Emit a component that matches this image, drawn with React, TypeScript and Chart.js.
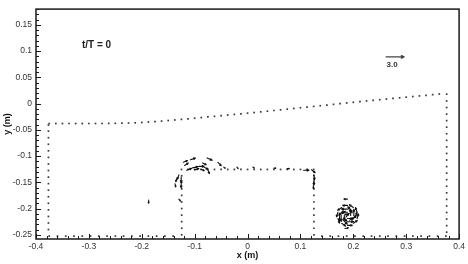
import { useEffect, useRef } from "react";
import { Chart, registerables } from "chart.js";

Chart.register(...registerables);

const FONT = "'Liberation Sans', Arial, sans-serif";

// Axis ticks
const xTicks = [-0.4, -0.3, -0.2, -0.1, 0, 0.1, 0.2, 0.3, 0.4];
const xTickLabels = ["-0.4", "-0.3", "-0.2", "-0.1", "0", "0.1", "0.2", "0.3", "0.4"];
const yTicks = [-0.25, -0.2, -0.15, -0.1, -0.05, 0, 0.05, 0.1, 0.15];
const yTickLabels = ["-0.25", "-0.2", "-0.15", "-0.1", "-0.05", "0", "0.05", "0.1", "0.15"];

// Free surface grid points
const surfX = [
  -0.375, -0.3625, -0.35, -0.3375, -0.325, -0.3125, -0.3, -0.2875, -0.275, -0.2625,
  -0.25, -0.2375, -0.225, -0.2125, -0.2, -0.1875, -0.175, -0.1625, -0.15, -0.1375,
  -0.125, -0.1125, -0.1, -0.0875, -0.075, -0.0625, -0.05, -0.0375, -0.025, -0.0125,
  0, 0.0125, 0.025, 0.0375, 0.05, 0.0625, 0.075, 0.0875, 0.1, 0.1125,
  0.125, 0.1375, 0.15, 0.1625, 0.175, 0.1875, 0.2, 0.2125, 0.225, 0.2375,
  0.25, 0.2625, 0.275, 0.2875, 0.3, 0.3125, 0.325, 0.3375, 0.35, 0.3625,
];
const surfY = [
  -0.038, -0.038, -0.038, -0.038, -0.038, -0.038, -0.038, -0.038, -0.038, -0.0378,
  -0.0376, -0.0374, -0.0371, -0.0366, -0.036, -0.0352, -0.0343, -0.0333, -0.0323, -0.0312,
  -0.0301, -0.029, -0.0279, -0.0267, -0.0255, -0.0243, -0.0231, -0.0219, -0.0207, -0.0195,
  -0.0183, -0.0171, -0.0158, -0.0145, -0.0132, -0.0119, -0.0106, -0.0093, -0.008, -0.0067,
  -0.0054, -0.0041, -0.0028, -0.0015, -0.0002, 0.0011, 0.0024, 0.0037, 0.005, 0.0062,
  0.0074, 0.0086, 0.0098, 0.011, 0.0122, 0.0134, 0.0146, 0.0158, 0.017, 0.0182,
];

// Tank walls
const leftWallX = -0.3765;
const leftWallY = [
  -0.041, -0.0525, -0.065, -0.0775, -0.09, -0.1025, -0.115, -0.1275, -0.14, -0.1525,
  -0.165, -0.1775, -0.19, -0.2025, -0.215, -0.2275, -0.24,
];
const rightWallX = 0.3765;
const rightWallY = [
  0.018, 0.005, -0.0075, -0.02, -0.0325, -0.045, -0.0575, -0.07, -0.0825, -0.095,
  -0.1075, -0.12, -0.1325, -0.145, -0.1575, -0.17, -0.1825, -0.195, -0.2075, -0.22,
  -0.2325, -0.245,
];
const bottomY = -0.2525;
const bottomLeftX = [
  -0.375, -0.3594, -0.3438, -0.3281, -0.3125, -0.2969, -0.2813, -0.2656, -0.25,
  -0.2344, -0.2188, -0.2031, -0.1875, -0.1719, -0.1563, -0.1406,
];
const bottomRightX = [
  0.1406, 0.1563, 0.1719, 0.1875, 0.2031, 0.2188, 0.2344, 0.25, 0.2656,
  0.2813, 0.2969, 0.3125, 0.3281, 0.3438, 0.3594, 0.375,
];

// Submerged box
const boxTopY = -0.1255;
const boxTopX = [
  -0.125, -0.1125, -0.1, -0.0875, -0.075, -0.0625, -0.05, -0.0375, -0.025, -0.0125,
  0, 0.0125, 0.025, 0.0375, 0.05, 0.0625, 0.075, 0.0875, 0.1, 0.1125, 0.125,
];
const boxLeftX = -0.1245;
const boxRightX = 0.1255;
const boxWallY = [-0.1375, -0.15, -0.1625, -0.175, -0.1875, -0.2, -0.2125, -0.225, -0.2375, -0.25];

// Velocity vectors (position, u, v)
const vecX = [
  -0.1213, -0.108, -0.0764, -0.056, -0.115, -0.104, -0.0925, -0.083, -0.0755, -0.1,
  -0.0887, -0.085, -0.119, -0.045, -0.02, 0.01, 0.05, 0.075, 0.106,
  -0.1298, -0.1255, -0.1255, -0.137, -0.13, -0.1335,
  0.121, 0.1255, 0.1255, 0.1245,
  -0.187,
  0.195, 0.189, 0.183, 0.189,
  0.201, 0.1975, 0.189, 0.1805, 0.177, 0.1805, 0.189, 0.1975,
  0.207, 0.2, 0.189, 0.178, 0.171, 0.171, 0.178, 0.189, 0.2, 0.207,
  0.189, 0.184,
  0.198, 0.185, 0.181, 0.193, 0.2035, 0.174, 0.192, 0.186,
];
const vecY = [
  -0.1117, -0.107, -0.1035, -0.112, -0.127, -0.1225, -0.1196, -0.1206, -0.1253, -0.1263,
  -0.1253, -0.113, -0.118, -0.121, -0.121, -0.121, -0.123, -0.124, -0.127,
  -0.1358, -0.14, -0.15, -0.153, -0.182, -0.142,
  -0.126, -0.135, -0.145, -0.156,
  -0.184,
  -0.213, -0.207, -0.213, -0.219,
  -0.213, -0.2045, -0.201, -0.2045, -0.213, -0.2215, -0.225, -0.2215,
  -0.207, -0.198, -0.194, -0.198, -0.207, -0.219, -0.228, -0.232, -0.228, -0.219,
  -0.182, -0.238,
  -0.208, -0.205, -0.218, -0.222, -0.2165, -0.213, -0.2095, -0.2165,
];
const vecU = [
  0.67, 0.83, 0.83, 0.55, 0.8, 0.9, 0.9, 0.7, 0.3, 0.7,
  0.6, 0.6, 0.6, 0.25, 0.2, 0.25, 0.3, 0.35, 0.9,
  -0.25, 0, 0, 0.1, 0.3, -0.2,
  0.6, 0.1, 0, 0,
  0,
  0, -0.8, 0, 0.8,
  0, -0.7, -1.0, -0.7, 0, 0.7, 1.0, 0.7,
  -0.25, -0.65, -0.8, -0.65, -0.25, 0.25, 0.65, 0.8, 0.65, 0.25,
  -0.6, 0.6,
  -0.5, -0.6, 0.6, 0.7, 0.3, 0, -0.7, 0.5,
];
const vecV = [
  0.28, 0.27, -0.4, -0.55, 0.3, 0.2, 0, -0.4, -0.7, 0.2,
  -0.2, -0.3, 0.4, -0.2, -0.25, -0.15, 0, 0, 0,
  -0.7, -0.9, -0.9, -0.5, -0.3, -0.6,
  -0.5, -0.9, -0.9, -0.5,
  -0.5,
  0.8, 0, -0.8, 0,
  1.0, 0.7, 0, -0.7, -1.0, -0.7, 0, 0.7,
  0.76, 0.47, 0, -0.47, -0.76, -0.76, -0.47, 0, 0.47, 0.76,
  0, 0.1,
  0.5, -0.4, -0.5, 0.4, 0.8, -0.9, -0.2, 0.6,
];

// Reference vector and annotation
const refX = 0.262;
const refY = 0.089;
const refMag = 3.0;
const refLabel = "3.0";
const timeLabel = "t/T = 0";
const timeX = -0.313;
const timeY = 0.112;
const PX_PER_UNIT = 6;

function boundaryPoints() {
  const pts: { x: number; y: number }[] = [];
  surfX.forEach((x, i) => pts.push({ x, y: surfY[i] }));
  leftWallY.forEach((y) => pts.push({ x: leftWallX, y }));
  rightWallY.forEach((y) => pts.push({ x: rightWallX, y }));
  bottomLeftX.forEach((x) => pts.push({ x, y: bottomY }));
  bottomRightX.forEach((x) => pts.push({ x, y: bottomY }));
  boxTopX.forEach((x) => pts.push({ x, y: boxTopY }));
  boxWallY.forEach((y) => pts.push({ x: boxLeftX, y }));
  boxWallY.forEach((y) => pts.push({ x: boxRightX, y }));
  return pts;
}

function drawArrow(ctx: CanvasRenderingContext2D, x0: number, y0: number, dx: number, dy: number) {
  const len = Math.hypot(dx, dy);
  if (len < 0.5) return;
  const x1 = x0 + dx;
  const y1 = y0 + dy;
  ctx.beginPath();
  ctx.moveTo(x0, y0);
  ctx.lineTo(x1, y1);
  const h = Math.min(3, len * 0.35);
  const a = Math.atan2(dy, dx);
  ctx.moveTo(x1, y1);
  ctx.lineTo(x1 - h * Math.cos(a - 0.45), y1 - h * Math.sin(a - 0.45));
  ctx.moveTo(x1, y1);
  ctx.lineTo(x1 - h * Math.cos(a + 0.45), y1 - h * Math.sin(a + 0.45));
  ctx.stroke();
}

const vectorPlugin = {
  id: "vectorPlugin",
  afterDatasetsDraw(chart: any) {
    const { ctx, chartArea, scales } = chart;
    const xs = scales.x;
    const ys = scales.y;
    ctx.save();
    // frame
    ctx.strokeStyle = "#1a1a1a";
    ctx.lineWidth = 1.5;
    ctx.strokeRect(chartArea.left, chartArea.top, chartArea.right - chartArea.left, chartArea.bottom - chartArea.top);
    // inward ticks
    ctx.lineWidth = 1;
    ctx.beginPath();
    for (let k = -20; k <= 20; k++) {
      const v = k * 0.02;
      const px = Math.round(xs.getPixelForValue(v)) + 0.5;
      const major = k % 5 === 0;
      ctx.moveTo(px, chartArea.bottom);
      ctx.lineTo(px, chartArea.bottom - (major ? 5 : 3));
    }
    for (let k = -25; k <= 18; k++) {
      const v = k * 0.01;
      if (v < ys.min || v > ys.max) continue;
      const py = Math.round(ys.getPixelForValue(v)) + 0.5;
      const major = k % 5 === 0;
      ctx.moveTo(chartArea.left, py);
      ctx.lineTo(chartArea.left + (major ? 5 : 3), py);
    }
    ctx.stroke();
    // vectors
    ctx.strokeStyle = "#111";
    ctx.lineWidth = 1.1;
    ctx.lineCap = "round";
    for (let i = 0; i < vecX.length; i++) {
      const px = xs.getPixelForValue(vecX[i]);
      const py = ys.getPixelForValue(vecY[i]);
      drawArrow(ctx, px, py, vecU[i] * PX_PER_UNIT, -vecV[i] * PX_PER_UNIT);
    }
    // reference vector
    ctx.strokeStyle = "#444";
    ctx.lineWidth = 1.3;
    const rx = xs.getPixelForValue(refX);
    const ry = ys.getPixelForValue(refY);
    drawArrow(ctx, rx, ry, refMag * PX_PER_UNIT, 0);
    ctx.fillStyle = "#333";
    ctx.font = `bold 8px ${FONT}`;
    ctx.textAlign = "center";
    ctx.textBaseline = "middle";
    ctx.fillText(refLabel, rx + 6, ry + 8);
    ctx.fillStyle = "#222";
    ctx.font = `bold 10px ${FONT}`;
    ctx.textAlign = "left";
    ctx.fillText(timeLabel, xs.getPixelForValue(timeX), ys.getPixelForValue(timeY));
    ctx.restore();
  },
};

export default function App() {
  const ref = useRef<HTMLCanvasElement | null>(null);
  useEffect(() => {
    if (!ref.current) return;
    const chart = new Chart(ref.current, {
      type: "scatter",
      data: {
        datasets: [
          {
            data: boundaryPoints(),
            pointStyle: "rect",
            pointRadius: 1.2,
            pointBorderWidth: 0,
            pointBackgroundColor: "#3a3a3a",
            borderColor: "#3a3a3a",
          },
        ],
      },
      options: {
        animation: false,
        responsive: false,
        devicePixelRatio: 1,
        layout: { padding: { top: 6, right: 8, left: 0, bottom: 0 } },
        plugins: { legend: { display: false }, tooltip: { enabled: false } },
        scales: {
          x: {
            type: "linear",
            min: -0.4,
            max: 0.4,
            afterBuildTicks: (s: any) => {
              s.ticks = xTicks.map((v) => ({ value: v }));
            },
            afterFit: (s: any) => {
              s.height = 25;
            },
            grid: { display: false, drawTicks: false },
            border: { display: false },
            ticks: {
              padding: 3,
              color: "#333",
              font: { family: FONT, size: 8.5 },
              maxRotation: 0,
              autoSkip: false,
              callback: (_v: any, i: number) => xTickLabels[i],
            },
            title: {
              display: true,
              text: "x (m)",
              color: "#111",
              font: { family: FONT, size: 9, weight: "bold" },
              padding: { top: 0, bottom: 3 },
            },
          },
          y: {
            type: "linear",
            min: -0.258,
            max: 0.18,
            afterBuildTicks: (s: any) => {
              s.ticks = yTicks.map((v) => ({ value: v }));
            },
            afterFit: (s: any) => {
              s.width = 36;
            },
            grid: { display: false, drawTicks: false },
            border: { display: false },
            ticks: {
              padding: 4,
              color: "#333",
              font: { family: FONT, size: 8.5 },
              autoSkip: false,
              callback: (_v: any, i: number) => yTickLabels[i],
            },
            title: {
              display: true,
              text: "y (m)",
              color: "#111",
              font: { family: FONT, size: 9, weight: "bold" },
              padding: { top: 2, bottom: 0 },
            },
          },
        },
      },
      plugins: [vectorPlugin],
    });
    return () => chart.destroy();
  }, []);
  return (
    <div style={{ position: "fixed", left: 0, top: 0, width: 468, height: 264, background: "#fff" }}>
      <canvas ref={ref} width={468} height={264} />
    </div>
  );
}
